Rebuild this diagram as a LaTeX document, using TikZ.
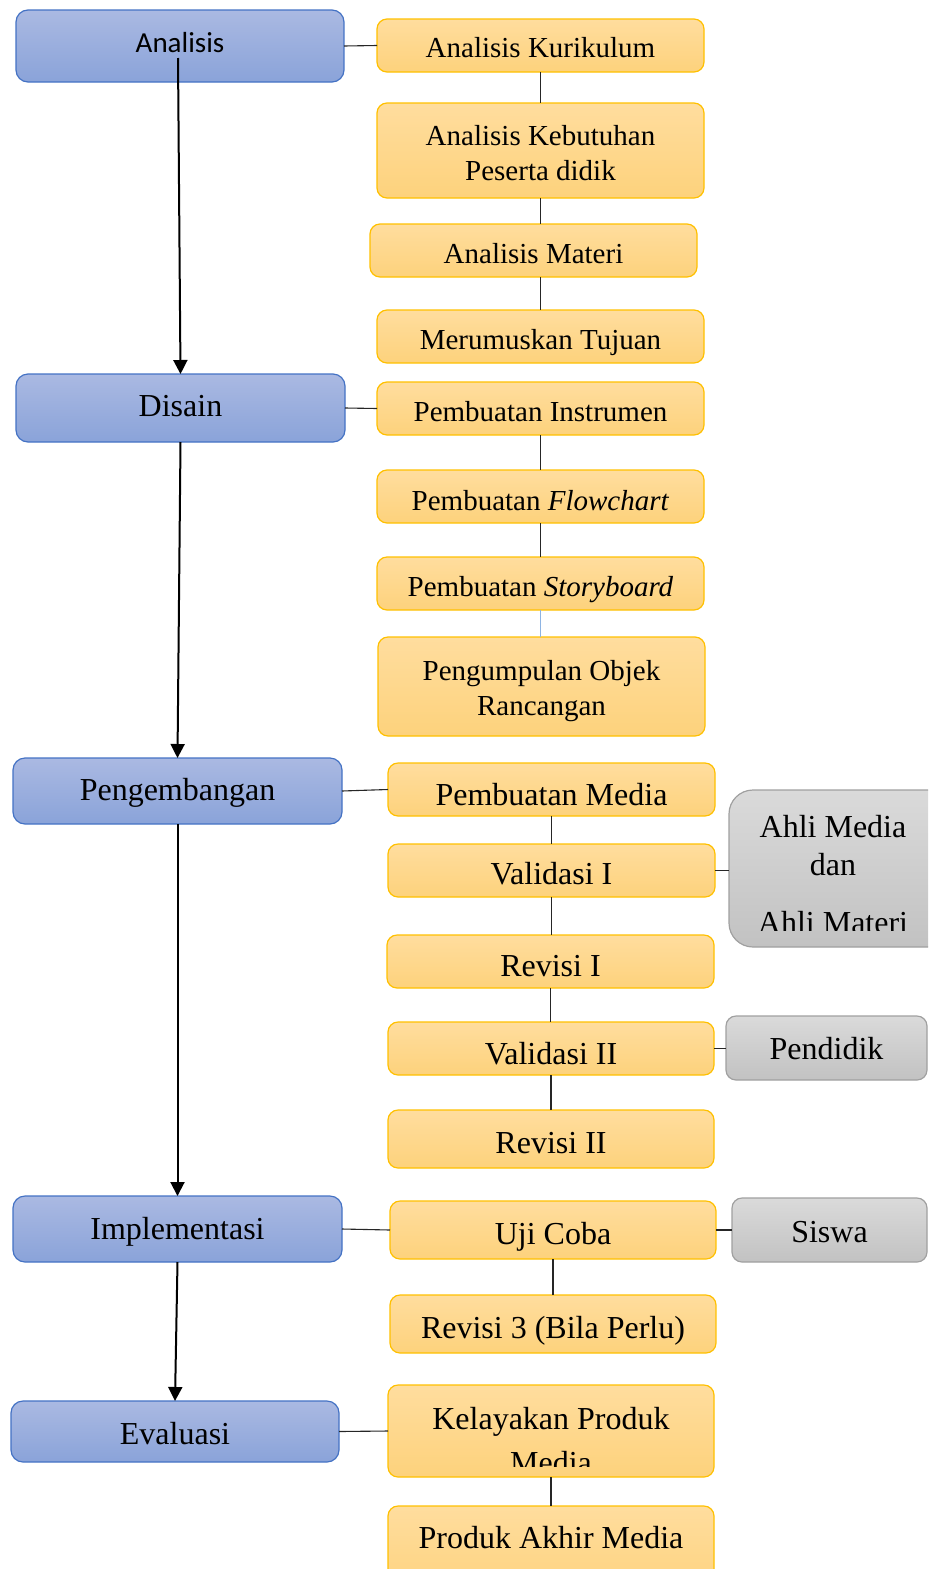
\documentclass[tikz,border=0pt]{standalone}
\usepackage{fontspec}
\setmainfont{Liberation Serif}
\newfontfamily\calibrifont{Carlito}
\usetikzlibrary{arrows.meta}
\definecolor{bluetop}{HTML}{AAB9E2}
\definecolor{bluebot}{HTML}{8AA3D9}
\definecolor{blueline}{HTML}{4472C4}
\definecolor{yeltop}{HTML}{FFDD9E}
\definecolor{yelbot}{HTML}{FDD27C}
\definecolor{yelline}{HTML}{FFC000}
\definecolor{graytop}{HTML}{DADADA}
\definecolor{graybot}{HTML}{C2C2C2}
\definecolor{grayline}{HTML}{A0A0A0}
\definecolor{lightblue}{HTML}{8EB4E3}
% #1 box style, #2 text style, #3 name, #4-#7 x1 y1 x2 y2, #8 text
\newcommand\mybox[8]{%
\node[#1, minimum width={(#6-#4)*0.5pt}, minimum height={(#7-#5)*0.5pt}] (#3) at ({(#4+#6)/2},{(#5+#7)/2}) {};
\node[align=center, inner sep=0pt, #2] (#3t) at (#3.center) {#8};}
\begin{document}
\begin{tikzpicture}[x=0.5pt,y=-0.5pt,
 bbox/.style={draw=blueline, line width=0.6pt, top color=bluetop, bottom color=bluebot, rounded corners=6pt, inner sep=0pt, outer sep=0pt},
 ybox/.style={draw=yelline, line width=0.6pt, top color=yeltop, bottom color=yelbot, rounded corners=5pt, inner sep=0pt, outer sep=0pt},
 gbox/.style={draw=grayline, line width=0.6pt, top color=graytop, bottom color=graybot, rounded corners=5pt, inner sep=0pt, outer sep=0pt},
 big/.style={font=\fontsize{16}{19}\selectfont},
 small/.style={font=\fontsize{14.5}{17.5}\selectfont},
 txt/.style={anchor=base, inner sep=0pt, font=\fontsize{16}{19}\selectfont},
 conn/.style={draw=black!85, line width=0.55pt},
 arr/.style={draw=black, line width=1pt, -{Triangle[length=7pt,width=7pt]}}
]
\clip (0,0) rectangle (928,1569);
% blue boxes
\mybox{bbox}{font=\calibrifont\fontsize{14.5}{17}\selectfont, yshift=1.5pt}{an}{16}{10}{344}{82}{Analisis}
\mybox{bbox}{big, yshift=1pt}{ds}{16}{374}{345}{442}{Disain}
\mybox{bbox}{big, yshift=-1pt}{pg}{13}{758}{342}{824}{Pengembangan}
\mybox{bbox}{big, yshift=-1.5pt}{im}{13}{1196}{342}{1262}{Implementasi}
\mybox{bbox}{big, yshift=-1pt}{ev}{11}{1401}{339}{1462}{Evaluasi}
% yellow boxes
\mybox{ybox}{small, yshift=-1pt}{k1}{377}{19}{704}{72}{Analisis Kurikulum}
\mybox{ybox}{small, yshift=-1.5pt}{k2}{377}{103}{704}{198}{Analisis Kebutuhan\\Peserta didik}
\mybox{ybox}{small, yshift=-1.5pt}{k3}{370}{224}{697}{277}{Analisis Materi}
\mybox{ybox}{small, yshift=-3pt}{k4}{377}{310}{704}{363}{Merumuskan Tujuan}
\mybox{ybox}{small, yshift=-1.5pt}{d1}{377}{382}{704}{435}{Pembuatan Instrumen}
\mybox{ybox}{small, yshift=-2pt}{d2}{377}{470}{704}{523}{Pembuatan \textit{Flowchart}}
\mybox{ybox}{small, yshift=-3pt}{d3}{377}{557}{704}{610}{Pembuatan \textit{Storyboard}}
\mybox{ybox}{small, yshift=-2.5pt}{d4}{378}{637}{705}{736}{Pengumpulan Objek\\Rancangan}
\mybox{ybox}{big, yshift=-2.5pt}{p1}{388}{763}{715}{816}{Pembuatan Media}
\mybox{ybox}{big, yshift=-1.5pt}{p2}{388}{844}{715}{897}{Validasi I}
\mybox{ybox}{big, yshift=-2.5pt}{p3}{387}{935}{714}{988}{Revisi I}
\mybox{ybox}{big, yshift=-2.5pt}{p4}{388}{1022}{714}{1075}{Validasi II}
\mybox{ybox}{big, yshift=-2pt}{p5}{388}{1110}{714}{1168}{Revisi II}
\mybox{ybox}{big, yshift=-3.5pt}{i1}{390}{1201}{716}{1259}{Uji Coba}
\mybox{ybox}{big, yshift=-3.5pt}{i2}{390}{1295}{716}{1353}{Revisi 3 (Bila Perlu)}
\mybox{ybox}{big}{e1}{388}{1385}{714}{1477}{}
\mybox{ybox}{big}{e2}{388}{1506}{714}{1600}{}
% gray boxes
\mybox{gbox,rounded corners=12pt}{big}{g1}{729}{790}{960}{947}{}
\mybox{gbox}{big, yshift=-0.5pt}{g2}{726}{1016}{927}{1080}{Pendidik}
\mybox{gbox}{big, yshift=-1pt}{g3}{732}{1198}{927}{1262}{Siswa}
% clipped texts
\begin{scope}
\clip (729,790) rectangle (960,930);
\node[txt] (g1a) at (833,837) {Ahli Media};
\node[txt] (g1b) at (833,875) {dan};
\node[txt] (g1c) at (833,933) {Ahli Materi};
\end{scope}
\begin{scope}
\clip (388,1385) rectangle (714,1466);
\node[txt] (e1a) at (551,1429) {Kelayakan Produk};
\node[txt] (e1b) at (551,1473) {Media};
\end{scope}
\node[txt] (e2a) at (551,1548) {Produk Akhir Media};
% connectors
\draw[conn] (an.east) -- (k1.west);
\draw[conn] (k1.south) -- (k2.north);
\draw[conn] (k2.south) -- (k2.south |- k3.north);
\draw[conn] (k3.south -| k4.north) -- (k4.north);
\draw[conn] (ds.east) -- (d1.west);
\draw[conn] (d1.south) -- (d2.north);
\draw[conn] (d2.south) -- (d3.north);
\draw[draw=lightblue, line width=0.55pt] (d3.south) -- (d3.south |- d4.north);
\draw[conn] (pg.east) -- (p1.west);
\draw[conn] (p1.south) -- (p2.north);
\draw[conn] (p2.south) -- (p2.south |- p3.north);
\draw[conn] (p3.south) -- (p3.south |- p4.north);
\draw[conn] (p4.south) -- (p5.north);
\draw[conn] (p2.east) -- (p2.east -| g1.west);
\draw[conn] (p4.east) -- (p4.east -| g2.west);
\draw[conn] (im.east) -- (i1.west);
\draw[conn] (i1.east) -- (i1.east -| g3.west);
\draw[conn] (i1.south) -- (i2.north);
\draw[conn] (ev.east) -- (e1.west);
\draw[conn] (e1.south) -- (e2.north);
% arrows
\coordinate (a0) at (178,58);
\draw[arr] (a0) -- (ds.north);
\draw[arr] (ds.south) -- (pg.north);
\draw[arr] (pg.south) -- (im.north);
\draw[arr] (im.south) -- (ev.north);
\end{tikzpicture}
\end{document}
